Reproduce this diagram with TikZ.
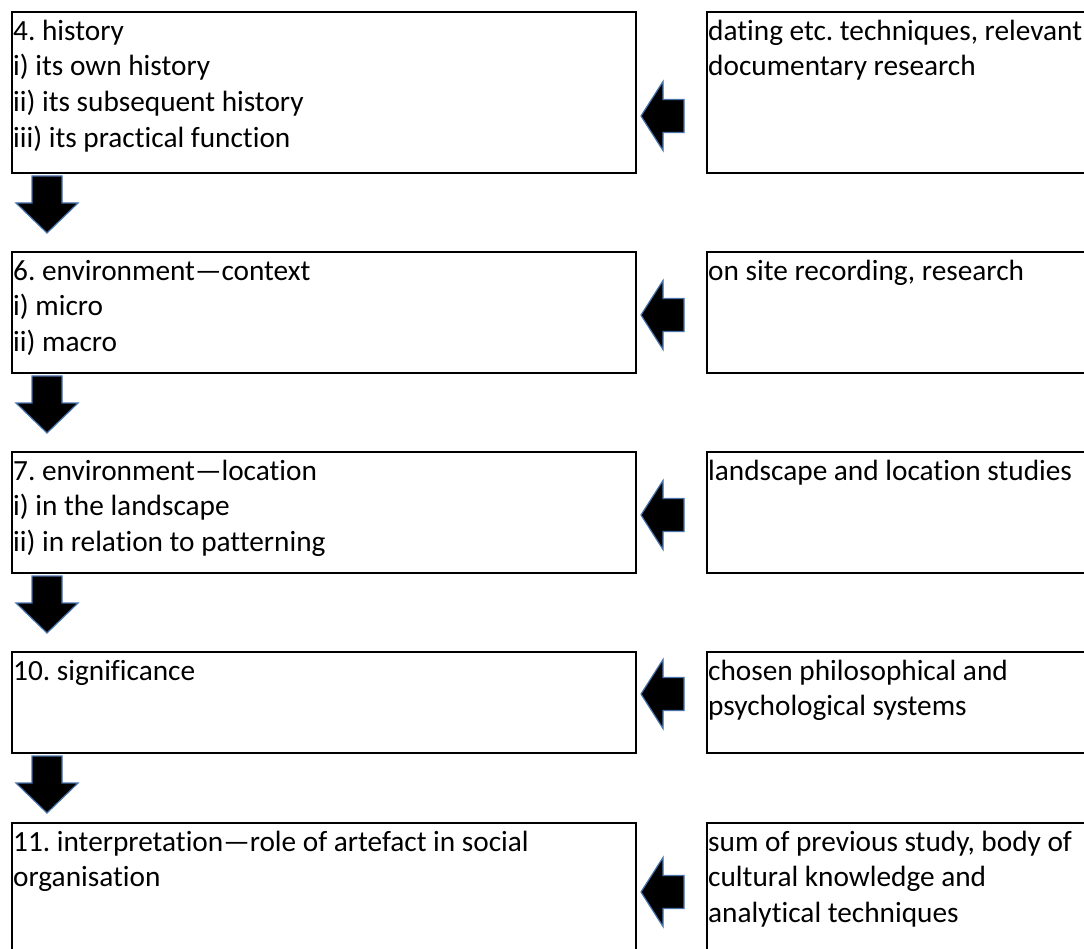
\documentclass[tikz,border=0pt]{standalone}
\usepackage{fontspec}
\setmainfont{Carlito}[Ligatures=NoCommon]
\usepackage{tikz}
\frenchspacing

\definecolor{arrowblue}{RGB}{70,115,170}

\tikzset{
	box/.style={rectangle, draw=black, line width=2pt, inner sep=0pt},
	leftbox/.style={box, minimum width=624pt},
	rightbox/.style={box, minimum width=443pt},
	txt/.style={anchor=north west, inner sep=0pt, align=left, font=\fontsize{29.3}{35.7}\selectfont},
	downarr/.pic={
		\filldraw[fill=black, draw=arrowblue, line width=1.2pt, line join=miter]
		(-15,0) -- (15,0) -- (15,27) -- (31,27) -- (0,57) -- (-31,27) -- (-15,27) -- cycle;
	},
	leftarr/.pic={
		\filldraw[fill=black, draw=arrowblue, line width=1.2pt, line join=miter]
		(0,0) -- (22,-34.5) -- (22,-16.5) -- (43,-16.5) -- (43,16.5) -- (22,16.5) -- (22,34.5) -- cycle;
	}
}

\begin{document}
\begin{tikzpicture}[x=1pt, y=-1pt]
	\useasboundingbox (0,0) rectangle (1084,949);
	\clip (0,0) rectangle (1084,949);
	
	% left column
	\node[leftbox, minimum height=161pt] (hist) at (324,92.5){};
	\node[leftbox, minimum height=121pt] (cont) at (324,312.5){};
	\node[leftbox, minimum height=121pt] (loc) at (324,512.5){};
	\node[leftbox, minimum height=101pt] (sig) at (324,702.5){};
	\node[leftbox, minimum height=180pt] (interp) at (324,913){};
	
	% right column
	\node[rightbox, minimum height=161pt] (dating) at (928.5,92.5){};
	\node[rightbox, minimum height=121pt] (site) at (928.5,312.5){};
	\node[rightbox, minimum height=121pt] (land) at (928.5,512.5){};
	\node[rightbox, minimum height=101pt] (philo) at (928.5,702.5){};
	\node[rightbox, minimum height=180pt] (sum) at (928.5,913){};
	
	\node[txt] (histtxt) at ([xshift=2pt, yshift=-4pt]hist.north west){\strut 4. history\\ i) its own history\\ ii) its subsequent history\\ iii) its practical function};
	\node[txt] (conttxt) at ([xshift=2pt, yshift=-4pt]cont.north west){\strut 6. environment—context\\ i) micro\\ ii) macro};
	\node[txt] (loctxt) at ([xshift=2pt, yshift=-4pt]loc.north west){\strut 7. environment—location\\ i) in the landscape\\ ii) in relation to patterning};
	\node[txt] (sigtxt) at ([xshift=2pt, yshift=-4pt]sig.north west){\strut 10. significance};
	\node[txt] (interptxt) at ([xshift=2pt, yshift=-4pt]interp.north west){\strut 11. interpretation—role of artefact in social\\ organisation};
	
	\node[txt] (datingtxt) at ([xshift=2pt, yshift=-4pt]dating.north west){\strut dating etc. techniques, relevant\\ documentary research};
	\node[txt] (sitetxt) at ([xshift=2pt, yshift=-4pt]site.north west){\strut on site recording, research};
	\node[txt] (landtxt) at ([xshift=2pt, yshift=-4pt]land.north west){\strut landscape and location studies};
	\node[txt] (philotxt) at ([xshift=2pt, yshift=-4pt]philo.north west){\strut chosen philosophical and\\ psychological systems};
	\node[txt] (sumtxt) at ([xshift=2pt, yshift=-4pt]sum.north west){\strut sum of previous study, body of\\ cultural knowledge and\\ analytical techniques};
	
	% arrows down
	\pic at ([xshift=36pt, yshift=-2pt]hist.south west) {downarr};
	\pic at ([xshift=36pt, yshift=-2pt]cont.south west) {downarr};
	\pic at ([xshift=36pt, yshift=-2pt]loc.south west) {downarr};
	\pic at ([xshift=36pt, yshift=-2pt]sig.south west) {downarr};
	
	% arrows left
	\pic at ([xshift=4pt, yshift=-105pt]hist.north east) {leftarr};
	\pic at ([xshift=4pt, yshift=-64pt]cont.north east) {leftarr};
	\pic at ([xshift=4pt, yshift=-64pt]loc.north east) {leftarr};
	\pic at ([xshift=4pt, yshift=-43pt]sig.north east) {leftarr};
	\pic at ([xshift=4pt, yshift=-70pt]interp.north east) {leftarr};
\end{tikzpicture}
\end{document}
